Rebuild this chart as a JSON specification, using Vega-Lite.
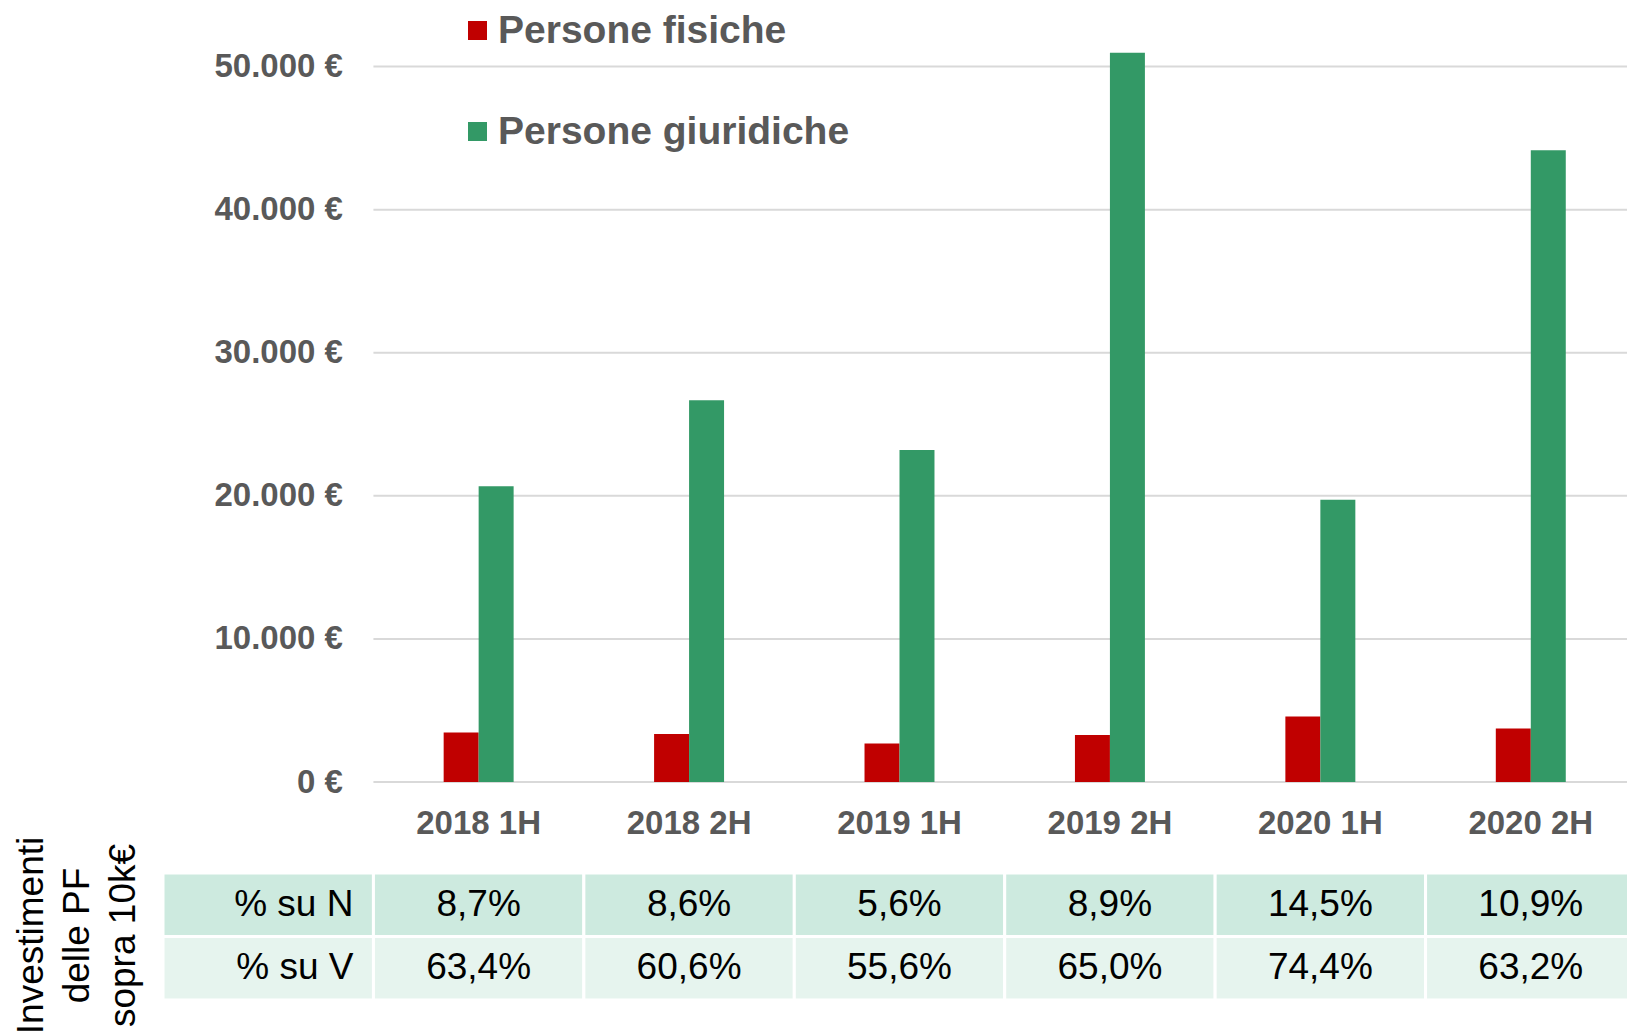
{
  "$schema": "https://vega.github.io/schema/vega-lite/v6.json",
  "padding": {"left": 12, "top": 0, "right": 0, "bottom": 0},
  "background": "white",
  "config": {"view": {"stroke": null}, "font": "Liberation Sans"},
  "spacing": -4,
  "resolve": {"scale": {"color": "independent", "x": "independent", "y": "independent"}},
  "vconcat": [
    {
      "width": 1473,
      "height": 782,
      "resolve": {"scale": {"x": "independent"}, "axis": {"x": "independent"}},
      "layer": [
        {
          "data": {"values": [{"v": 0}, {"v": 10000}, {"v": 20000}, {"v": 30000}, {"v": 40000}, {"v": 50000}]},
          "mark": {"type": "rule", "color": "#d9d9d9", "strokeWidth": 2},
          "encoding": {
            "y": {"field": "v", "type": "quantitative", "scale": {"domain": [0, 54650], "nice": false},
              "axis": {"title": null, "values": [0, 10000, 20000, 30000, 40000, 50000], "labelExpr": "replace(format(datum.value, ',.0f'), ',', '.') + ' €'", "offset": -210.4, "ticks": false, "domain": false, "grid": false, "labelPadding": 31, "labelFontSize": 33, "labelFontWeight": "bold", "labelColor": "#595959"}},
            "x": {"datum": "lbl", "type": "nominal", "bandPosition": 1,
              "scale": {"domain": ["lbl", "2018 1H", "2018 2H", "2019 1H", "2019 2H", "2020 1H", "2020 2H"], "paddingInner": 0, "paddingOuter": 0},
              "axis": null},
            "x2": {"value": "width"}
          }
        },
        {
          "data": {"values": [
            {"period": "2018 1H", "serie": "Persone fisiche", "value": 3466},
            {"period": "2018 1H", "serie": "Persone giuridiche", "value": 20661},
            {"period": "2018 2H", "serie": "Persone fisiche", "value": 3354},
            {"period": "2018 2H", "serie": "Persone giuridiche", "value": 26677},
            {"period": "2019 1H", "serie": "Persone fisiche", "value": 2697},
            {"period": "2019 1H", "serie": "Persone giuridiche", "value": 23197},
            {"period": "2019 2H", "serie": "Persone fisiche", "value": 3284},
            {"period": "2019 2H", "serie": "Persone giuridiche", "value": 50964},
            {"period": "2020 1H", "serie": "Persone fisiche", "value": 4584},
            {"period": "2020 1H", "serie": "Persone giuridiche", "value": 19718},
            {"period": "2020 2H", "serie": "Persone fisiche", "value": 3745},
            {"period": "2020 2H", "serie": "Persone giuridiche", "value": 44145}
          ]},
          "mark": {"type": "bar"},
          "encoding": {
            "x": {"field": "period", "type": "nominal", "sort": null,
              "scale": {"domain": ["lbl", "2018 1H", "2018 2H", "2019 1H", "2019 2H", "2020 1H", "2020 2H"], "paddingInner": 0.6675, "paddingOuter": 0.33375},
              "axis": {"title": null, "labelExpr": "datum.value == 'lbl' ? '' : datum.value", "labelAngle": 0, "ticks": false, "domain": false, "grid": false, "labelPadding": 25, "labelFontSize": 33, "labelFontWeight": "bold", "labelColor": "#595959"}},
            "xOffset": {"field": "serie", "type": "nominal", "scale": {"domain": ["Persone fisiche", "Persone giuridiche"], "paddingInner": 0, "paddingOuter": 0}},
            "y": {"field": "value", "type": "quantitative", "scale": {"domain": [0, 54650], "nice": false},
              "axis": {"title": null, "values": [0, 10000, 20000, 30000, 40000, 50000], "labelExpr": "replace(format(datum.value, ',.0f'), ',', '.') + ' €'", "offset": -210.4, "ticks": false, "domain": false, "grid": false, "labelPadding": 31, "labelFontSize": 33, "labelFontWeight": "bold", "labelColor": "#595959"}},
            "color": {"field": "serie", "type": "nominal",
              "scale": {"domain": ["Persone fisiche", "Persone giuridiche"], "range": ["#c00000", "#339966"]},
              "legend": {"title": null, "orient": "none", "legendX": 295, "legendY": 11, "direction": "vertical", "symbolType": "square", "symbolSize": 361, "symbolStrokeWidth": 0, "labelFontSize": 39, "labelFontWeight": "bold", "labelColor": "#595959", "labelLimit": 700, "labelOffset": 1, "rowPadding": 61}}
          }
        }
      ]
    },
    {
      "width": 1473,
      "height": 127,
      "data": {"values": [
        {"period": "lbl", "row": "% su N", "text": "% su N"},
        {"period": "lbl", "row": "% su V", "text": "% su V"},
        {"period": "2018 1H", "row": "% su N", "text": "8,7%"},
        {"period": "2018 2H", "row": "% su N", "text": "8,6%"},
        {"period": "2019 1H", "row": "% su N", "text": "5,6%"},
        {"period": "2019 2H", "row": "% su N", "text": "8,9%"},
        {"period": "2020 1H", "row": "% su N", "text": "14,5%"},
        {"period": "2020 2H", "row": "% su N", "text": "10,9%"},
        {"period": "2018 1H", "row": "% su V", "text": "63,4%"},
        {"period": "2018 2H", "row": "% su V", "text": "60,6%"},
        {"period": "2019 1H", "row": "% su V", "text": "55,6%"},
        {"period": "2019 2H", "row": "% su V", "text": "65,0%"},
        {"period": "2020 1H", "row": "% su V", "text": "74,4%"},
        {"period": "2020 2H", "row": "% su V", "text": "63,2%"}
      ]},
      "encoding": {
        "x": {"field": "period", "type": "nominal", "sort": null,
          "scale": {"domain": ["lbl", "2018 1H", "2018 2H", "2019 1H", "2019 2H", "2020 1H", "2020 2H"], "paddingInner": 0, "paddingOuter": 0},
          "axis": null},
        "y": {"field": "row", "type": "nominal",
          "scale": {"domain": ["% su N", "% su V"], "paddingInner": 0, "paddingOuter": 0},
          "axis": {"labels": false, "ticks": false, "domain": false, "grid": false, "title": ["Investimenti", "delle PF", "sopra 10k€"], "titleFontSize": 37, "titleFontWeight": "normal", "titleColor": "#000000", "titleLineHeight": 46, "titlePadding": 21, "titleY": 62}}
      },
      "layer": [
        {
          "mark": {"type": "rect", "stroke": "white", "strokeWidth": 3},
          "encoding": {"color": {"field": "row", "type": "nominal", "scale": {"domain": ["% su N", "% su V"], "range": ["#cdeadf", "#e6f4ee"]}, "legend": null}}
        },
        {
          "transform": [{"filter": "datum.period != 'lbl'"}],
          "mark": {"type": "text", "fontSize": 37, "color": "#000000"},
          "encoding": {"text": {"field": "text"}}
        },
        {
          "transform": [{"filter": "datum.period == 'lbl'"}],
          "mark": {"type": "text", "fontSize": 37, "color": "#000000", "align": "right", "dx": -20},
          "encoding": {"text": {"field": "text"}, "x": {"field": "period", "type": "nominal", "bandPosition": 1}}
        }
      ]
    }
  ]
}
